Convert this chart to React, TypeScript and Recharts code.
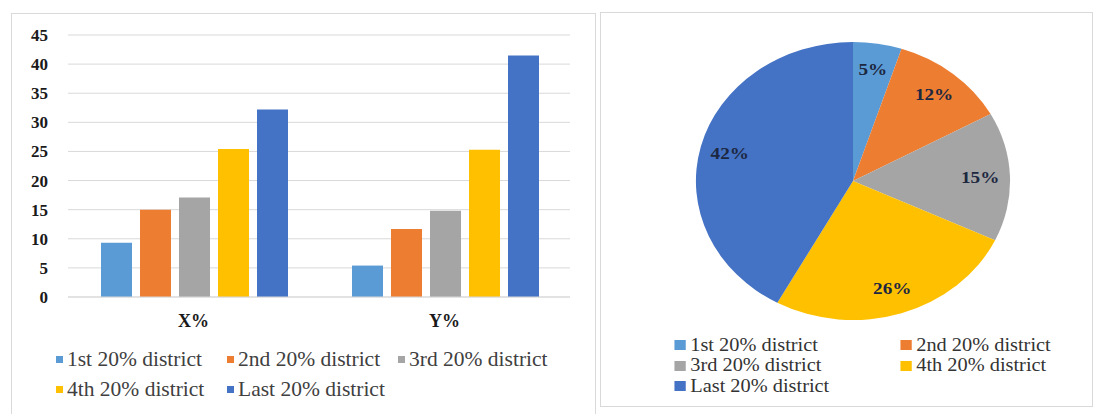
import React from 'react';
import { BarChart, Bar, XAxis, YAxis, CartesianGrid, Legend, PieChart, Pie, Cell } from 'recharts';

// ---------- data ----------
const categories = ['X%', 'Y%'];
const seriesNames = [
  '1st 20% district',
  '2nd 20% district',
  '3rd 20% district',
  '4th 20% district',
  'Last 20% district',
];
const firstValues = [9.3, 5.4];
const secondValues = [15.0, 11.7];
const thirdValues = [17.1, 14.8];
const fourthValues = [25.4, 25.3];
const lastValues = [32.2, 41.5];
const yTicks = [0, 5, 10, 15, 20, 25, 30, 35, 40, 45];
const pieValues = [5, 12, 15, 26, 42];

// ---------- styles ----------
const colors = ['#5B9BD5', '#ED7D31', '#A5A5A5', '#FFC000', '#4472C4'];
const FONT = '"Liberation Serif", "Times New Roman", serif';

const seriesValues = [firstValues, secondValues, thirdValues, fourthValues, lastValues];
const barData = categories.map((c, i) => {
  const row: any = { category: c };
  seriesValues.forEach((vals, j) => {
    row['s' + j] = vals[i];
  });
  return row;
});
const pieData = seriesNames.map((n, i) => ({ name: n, value: pieValues[i] }));

const renderBarLegend = (props: any) => (
  <div
    style={{
      height: 60,
      display: 'flex',
      flexWrap: 'wrap',
      paddingLeft: 56,
      boxSizing: 'border-box',
      fontFamily: FONT,
      fontSize: 21.5,
      color: '#404040',
    }}
  >
    {(props.payload || []).map((p: any, i: number) => (
      <div key={i} style={{ width: 171, height: 27, display: 'flex', alignItems: 'center', whiteSpace: 'nowrap' }}>
        <span style={{ display: 'inline-block', width: 7, height: 7, background: p.color, marginRight: 4 }} />
        <span>{p.value}</span>
      </div>
    ))}
  </div>
);

const renderPieLegend = (props: any) => (
  <div
    style={{
      height: 62,
      display: 'grid',
      gridTemplateColumns: '200px 165px',
      paddingLeft: 65,
      boxSizing: 'border-box',
      fontFamily: FONT,
      fontSize: 18,
      color: '#333333',
    }}
  >
    {(props.payload || []).map((p: any, i: number) => (
      <div key={i} style={{ height: 20, display: 'flex', alignItems: 'center', whiteSpace: 'nowrap' }}>
        <span style={{ display: 'inline-block', width: 10, height: 10, background: p.color, marginRight: 4 }} />
        <span>{p.value}</span>
      </div>
    ))}
  </div>
);

const RAD = Math.PI / 180;
const renderPieLabel = (props: any) => {
  const { cx, cy, midAngle, outerRadius, value } = props;
  const r = outerRadius * 0.81;
  const x = cx + r * Math.cos(-midAngle * RAD);
  const y = cy + r * Math.sin(-midAngle * RAD);
  return (
    <text
      x={x}
      y={y}
      textAnchor="middle"
      dominantBaseline="central"
      fontFamily={FONT}
      fontSize={17}
      fontWeight="bold"
      fill="#1c2740"
    >
      {`${value}%`}
    </text>
  );
};

export default function App() {
  return (
    <div
      style={{
        position: 'absolute',
        left: 0,
        top: 0,
        width: 1097,
        height: 414,
        overflow: 'hidden',
        background: '#ffffff',
      }}
    >
      {/* left panel frame */}
      <div
        style={{
          position: 'absolute',
          left: 11,
          top: 13,
          width: 585,
          height: 420,
          border: '1px solid #d9d9d9',
          boxSizing: 'border-box',
        }}
      />
      <div style={{ position: 'absolute', left: 0, top: 0 }}>
        <BarChart
          width={595}
          height={414}
          data={barData}
          margin={{ top: 35, right: 25, bottom: 17, left: 0 }}
          barCategoryGap={33}
          barGap={8}
        >
          <CartesianGrid vertical={false} stroke="#d9d9d9" />
          <XAxis
            dataKey="category"
            height={40}
            tickLine={false}
            axisLine={{ stroke: '#d9d9d9' }}
            tickSize={6}
            tickMargin={11}
            tick={{ fill: '#1a1a1a', fontSize: 18, fontWeight: 'bold', fontFamily: FONT }}
          />
          <YAxis
            width={68}
            domain={[0, 45]}
            ticks={yTicks}
            interval={0}
            tickLine={false}
            axisLine={false}
            tickSize={6}
            tickMargin={14}
            tick={{ fill: '#1a1a1a', fontSize: 17, fontWeight: 'bold', fontFamily: FONT }}
          />
          {seriesNames.map((n, i) => (
            <Bar key={n} dataKey={'s' + i} name={n} fill={colors[i]} isAnimationActive={false} />
          ))}
          <Legend
            verticalAlign="bottom"
            content={renderBarLegend}
            wrapperStyle={{ left: 0, top: 346, width: 595 }}
          />
        </BarChart>
      </div>

      {/* right panel */}
      <div
        style={{
          position: 'absolute',
          left: 600,
          top: 12,
          width: 493,
          height: 395,
          border: '1px solid #d9d9d9',
          boxSizing: 'border-box',
        }}
      >
        <div style={{ position: 'absolute', left: 0, top: 0, transform: 'scaleX(1.13)', transformOrigin: '0 0' }}>
          <PieChart width={434} height={393} margin={{ top: 0, right: 0, bottom: 0, left: 0 }}>
            <Pie
              data={pieData}
              dataKey="value"
              nameKey="name"
              cx={223}
              cy={168}
              outerRadius={139}
              startAngle={90}
              endAngle={-270}
              label={renderPieLabel}
              labelLine={false}
              stroke="none"
              isAnimationActive={false}
            >
              {pieData.map((d, i) => (
                <Cell key={d.name} fill={colors[i]} />
              ))}
            </Pie>
            <Legend content={renderPieLegend} wrapperStyle={{ left: 0, top: 322, width: 434 }} />
          </PieChart>
        </div>
      </div>
    </div>
  );
}
